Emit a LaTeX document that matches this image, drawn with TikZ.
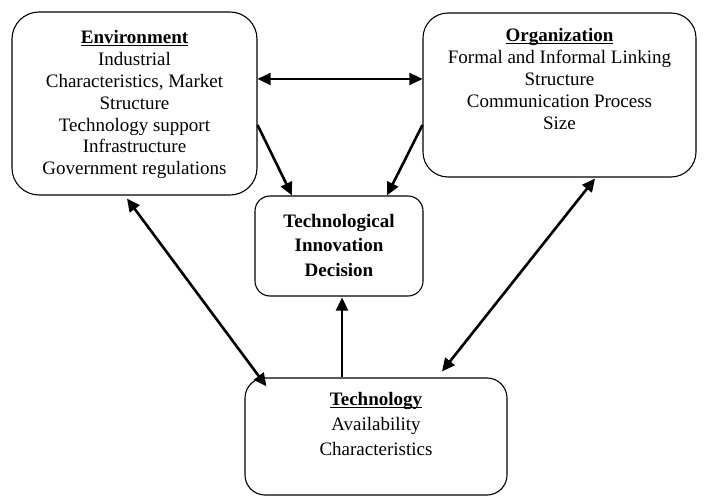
\documentclass[tikz,border=0pt]{standalone}
\usepackage{fontspec}
\setmainfont{Liberation Serif}
\usetikzlibrary{arrows.meta, positioning, calc}
\newcommand{\headline}[1]{\underline{\smash{\textbf{#1}}\vphantom{x}}}

\begin{document}
\begin{tikzpicture}[
    x=1pt, y=-1pt,
    box/.style={rectangle, draw, line width=1.1pt, minimum width=#1},
    txt/.style={anchor=north, align=center, font=\fontsize{19}{21.8}\selectfont, inner sep=0pt},
    arrow/.style={-{Triangle[length=13pt, width=12pt]}, line width=2.6pt},
    biarrow/.style={{Triangle[length=13pt, width=12pt]}-{Triangle[length=13pt, width=12pt]}, line width=2.6pt}
]
    \useasboundingbox (0,0) rectangle (715,497);

    \node[box=245pt, minimum height=183pt, rounded corners=27pt] (env) at (134.5,103.5) {};
    \node[box=273pt, minimum height=164pt, rounded corners=25pt] (org) at (559.5,95) {};
    \node[box=168pt, minimum height=100pt, rounded corners=15pt] (tid) at (339,246) {};
    \node[box=262pt, minimum height=117pt, rounded corners=20pt] (tech) at (376,436.5) {};

    \node[txt] (envtxt) at (134.5,35) {\headline{Environment}\\Industrial\\Characteristics, Market\\Structure\\Technology support\\Infrastructure\\Government regulations};
    \node[txt] (orgtxt) at (559.5,33) {\headline{Organization}\\Formal and Informal Linking\\Structure\\Communication Process\\Size};
    \node[txt, font=\bfseries\fontsize{19}{24.5}\selectfont] (tidtxt) at (339,214) {Technological\\Innovation\\Decision};
    \node[txt, font=\fontsize{19}{25}\selectfont] (techtxt) at (376,397) {\headline{Technology}\\Availability\\Characteristics};

    \draw[biarrow] ([yshift=24.5pt]env.east) -- ([yshift=16pt]org.west);
    \draw[arrow] ([yshift=-21.5pt]env.east) -- ([xshift=-47pt]tid.north);
    \draw[arrow] ([yshift=-30pt]org.west) -- ([xshift=48pt]tid.north);
    \draw[biarrow] ([xshift=-7.5pt,yshift=-3pt]env.south) -- ([xshift=22pt,yshift=-9pt]tech.north west);
    \draw[biarrow] ([xshift=35.5pt,yshift=-1pt]org.south) -- ([xshift=66pt,yshift=6pt]tech.north);
    \draw[arrow] ([xshift=-34pt]tech.north) -- ([xshift=3pt,yshift=-1pt]tid.south);
\end{tikzpicture}
\end{document}
